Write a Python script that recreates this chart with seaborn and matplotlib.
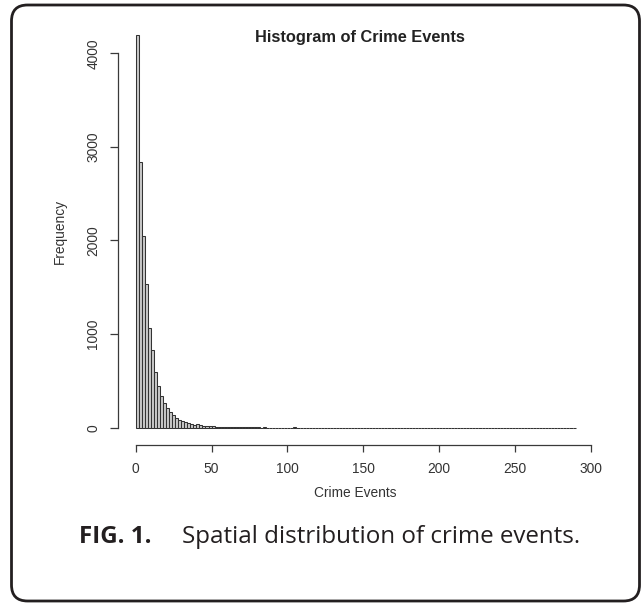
import numpy as np
import pandas as pd
import matplotlib
matplotlib.use("Agg")
import matplotlib.pyplot as plt
from matplotlib.patches import FancyBboxPatch
import seaborn as sns

# ---- data ----
bin_width = 2
bin_start = 0
bin_stop = 290
counts = [
    4200, 2840, 2050, 1540, 1070, 825, 600, 445, 335, 260,   # 0-20
    215, 170, 135, 105, 85, 70, 58, 48, 40, 34,               # 20-40
    35, 28, 22, 18, 16, 13, 12, 10, 9, 8,                     # 40-60
    7, 6, 6, 5, 5, 4, 4, 3, 4, 3,                             # 60-80
    3, 2, 3, 2, 2, 2, 2, 1, 2, 2,                             # 80-100
    1, 2, 6, 2, 1, 1, 1, 1, 1, 1,                             # 100-120
    1, 0, 1, 1, 0, 1, 0, 1, 0, 1,                             # 120-140
    0, 0, 1, 0, 1, 0, 0, 0, 0, 0,                             # 140-160
    0, 0, 0, 0, 0, 0, 0, 0, 0, 0,                             # 160-180
    0, 0, 0, 0, 0, 0, 0, 0, 0, 0,                             # 180-200
    0, 0, 0, 0, 0, 0, 0, 0, 0, 0,                             # 200-220
    0, 0, 0, 0, 0, 1, 0, 0, 0, 0,                             # 220-240
    0, 0, 0, 0, 0, 0, 0, 0, 0, 0,                             # 240-260
    0, 0, 0, 0, 0, 0, 0, 0, 0, 0,                             # 260-280
    0, 0, 0, 0, 1,                                            # 280-290
]
x_ticks = [0, 50, 100, 150, 200, 250, 300]
y_ticks = [0, 1000, 2000, 3000, 4000]
title = "Histogram of Crime Events"
x_label = "Crime Events"
y_label = "Frequency"
caption_bold = "FIG. 1."
caption_text = "Spatial distribution of crime events."

edges = np.arange(bin_start, bin_stop + bin_width, bin_width)
centers = edges[:-1] + bin_width / 2
df = pd.DataFrame({"events": centers, "count": np.array(counts, dtype=float)})

# ---- style ----
sns.set_theme(style="white")
plt.rcParams["font.family"] = ["Liberation Sans", "DejaVu Sans"]

W, H = 642, 603
fig = plt.figure(figsize=(W / 100, H / 100), dpi=100)
fig.patch.set_facecolor("white")

# axes placed in pixel coordinates (y measured from top)
ax_l, ax_r, ax_t, ax_b = 118, 600, 28, 445
ax = fig.add_axes([ax_l / W, 1 - ax_b / H, (ax_r - ax_l) / W, (ax_b - ax_t) / H])
ax.set_facecolor("white")

sns.histplot(data=df, x="events", weights="count",
             binwidth=bin_width, binrange=(bin_start, bin_stop), ax=ax,
             stat="count", element="bars", fill=True,
             color="#c8c8c8", edgecolor="#333333", linewidth=0.75, alpha=1.0)

# data->pixel mapping: x 0 -> 135.7, 300 -> 590.7 ; y 0 -> 427.7, 4000 -> 53.3
px_per_x = (590.7 - 135.7) / 300
px_per_y = (427.7 - 53.3) / 4000
ax.set_xlim((ax_l - 135.7) / px_per_x, (ax_r - 135.7) / px_per_x)
ax.set_ylim((427.7 - ax_b) / px_per_y, (427.7 - ax_t) / px_per_y)

axis_col = "#3a3a3a"
for s in ["top", "right"]:
    ax.spines[s].set_visible(False)
for s in ["left", "bottom"]:
    ax.spines[s].set_color(axis_col)
    ax.spines[s].set_linewidth(0.9)
ax.spines["bottom"].set_bounds(0, 300)
ax.spines["left"].set_bounds(0, 4000)

ax.set_xticks(x_ticks)
ax.set_yticks(y_ticks)
ax.set_yticklabels([str(v) for v in y_ticks], rotation=90, va="center")
ax.tick_params(axis="x", direction="out", length=5.2, width=0.9, color=axis_col,
               labelsize=9.9, labelcolor="#333333", pad=7.0, bottom=True)
ax.tick_params(axis="y", direction="out", length=5.8, width=0.9, color=axis_col,
               labelsize=9.9, labelcolor="#333333", pad=7.0, left=True)
ax.grid(False)

ax.set_xlabel(x_label, fontsize=9.9, color="#333333")
ax.set_ylabel(y_label, fontsize=9.9, color="#333333")
ax.xaxis.set_label_coords((355.5 - ax_l) / (ax_r - ax_l), -(493 - ax_b) / (ax_b - ax_t))
ax.yaxis.set_label_coords(-(118 - 60) / (ax_r - ax_l), (ax_b - 231) / (ax_b - ax_t))
ax.xaxis.label.set_va("center")
ax.yaxis.label.set_va("center")

fig.text(359.5 / W, 1 - 37.3 / H, title, fontsize=11.8, fontweight="bold",
         ha="center", va="center", color="#222222")

# caption
cap_y = 1 - 537 / H
fig.text(79 / W, cap_y, caption_bold, fontsize=17.4, fontweight="bold",
         family=["Open Sans", "DejaVu Sans"], ha="left", va="center", color="#231f20")
fig.text(182 / W, cap_y, caption_text, fontsize=17.4,
         family=["Open Sans", "DejaVu Sans"], ha="left", va="center", color="#231f20")

# rounded frame
frame = FancyBboxPatch((11.5 / W, 1 - 601 / H), (639.5 - 11.5) / W, (601 - 5) / H,
                       boxstyle="round,pad=0,rounding_size=0.025",
                       transform=fig.transFigure, fill=False,
                       edgecolor="#231f20", linewidth=2.0, clip_on=False,
                       mutation_aspect=W / H)
fig.patches.append(frame)

fig.savefig("out.png", dpi=100, facecolor="white")
